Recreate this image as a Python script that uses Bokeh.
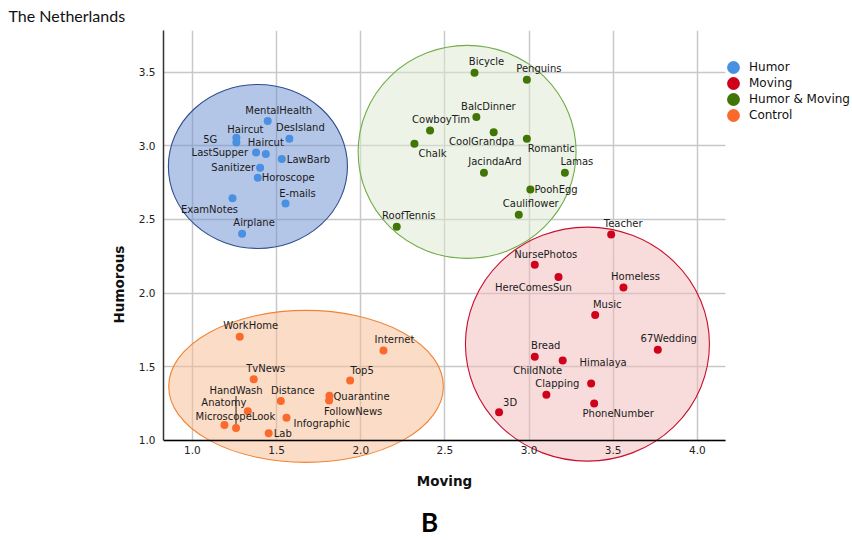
from bokeh.plotting import figure
from bokeh.models import (ColumnDataSource, FixedTicker, PrintfTickFormatter, Legend,
                          LegendItem, Label)
from bokeh.core.properties import value
from bokeh.embed import file_html
from bokeh.resources import INLINE

# ---------------- data ----------------
x_ticks = [1.0, 1.5, 2.0, 2.5, 3.0, 3.5, 4.0]
y_ticks = [1.0, 1.5, 2.0, 2.5, 3.0, 3.5]

humor_names = ["MentalHealth", "Haircut", "5G", "Haircut", "LastSupper", "DesIsland",
               "LawBarb", "Sanitizer", "Horoscope", "E-mails", "ExamNotes", "Airplane"]
humor_x = [1.447, 1.261, 1.261, 1.436, 1.378, 1.576, 1.531, 1.402, 1.388, 1.553, 1.238, 1.295]
humor_y = [3.168, 3.055, 3.023, 2.944, 2.955, 3.048, 2.910, 2.851, 2.783, 2.609, 2.645, 2.403]

moving_names = ["Teacher", "NursePhotos", "HereComesSun", "Homeless", "Music", "67Wedding",
                "Bread", "ChildNote", "Himalaya", "Clapping", "3D", "PhoneNumber"]
moving_x = [3.488, 3.034, 3.175, 3.561, 3.393, 3.765, 3.034, 3.200, 3.369, 3.103, 2.822, 3.387]
moving_y = [2.398, 2.193, 2.109, 2.039, 1.851, 1.616, 1.568, 1.543, 1.387, 1.310, 1.192, 1.251]

hm_names = ["Bicycle", "Penguins", "BalcDinner", "CowboyTim", "CoolGrandpa", "Romantic",
            "Chalk", "JacindaArd", "Lamas", "PoohEgg", "Cauliflower", "RoofTennis"]
hm_x = [2.676, 2.987, 2.687, 2.412, 2.790, 2.987, 2.319, 2.732, 3.213, 3.008, 2.939, 2.214]
hm_y = [3.496, 3.448, 3.195, 3.104, 3.093, 3.048, 3.014, 2.817, 2.817, 2.704, 2.532, 2.451]

control_names = ["WorkHome", "Internet", "TvNews", "Top5", "Quarantine", "FollowNews",
                 "Distance", "HandWash", "Anatomy", "MicroscopeLook", "Infographic", "Lab"]
control_x = [1.281, 2.135, 1.364, 1.937, 1.814, 1.812, 1.525, 1.259, 1.329, 1.190, 1.559, 1.453]
control_y = [1.704, 1.611, 1.416, 1.407, 1.303, 1.272, 1.267, 1.084, 1.199, 1.104, 1.154, 1.048]

group_names = ["Humor", "Moving", "Humor & Moving", "Control"]
# group ellipses (centre, full width, full height) in data units
ellipse_cx = [1.389, 3.347, 2.632, 1.675]
ellipse_cy = [2.860, 1.654, 2.959, 1.367]
ellipse_w = [1.064, 1.450, 1.295, 1.632]
ellipse_h = [1.113, 1.589, 1.446, 1.032]

# ---------------- styles ----------------
dot_colors = ["#4a90e2", "#d0021b", "#417505", "#fb6a2c"]
ell_fill = ["#698dcf", "#f1b9b9", "#dbe9cf", "#f7b98d"]
ell_line = ["#2f4f8f", "#c8102e", "#70ad47", "#f08434"]

# label anchors: (align, dx px, dy px)
humor_anchor = [("center", 11, -11), ("center", 9, -8), ("right", -19, -3), ("center", 0, -12),
                ("right", -8, 0), ("center", 11, -11), ("left", 5, 0), ("right", -5, 0),
                ("left", 4, 0), ("center", 12, -10), ("center", -23, 11), ("center", 12, -11)]
moving_anchor = [("center", 12, -11), ("center", 11, -10), ("center", -25, 10), ("center", 12, -11),
                 ("center", 12, -11), ("center", 11, -11), ("center", 11, -11), ("center", -25, 10),
                 ("center", 12, -21), ("center", 11, -11), ("center", 11, -10), ("center", 24, 10)]
hm_anchor = [("center", 12, -11), ("center", 12, -11), ("center", 12, -11), ("center", 11, -11),
             ("center", -12, 9), ("left", 1, 10), ("left", 4, 10), ("center", 11, -11),
             ("center", 12, -11), ("left", 4, 0), ("center", 12, -11), ("center", 12, -11)]
control_anchor = [("center", 11, -11), ("center", 11, -11), ("center", 12, -11), ("center", 12, -10),
                  ("left", 4, 1), ("center", 24, 11), ("center", 12, -11), ("center", 0, -38),
                  ("center", -24, -9), ("center", 11, -9), ("left", 7, 6), ("left", 5, 0)]

X_AXIS_END = 4.167          # right end of axis line / horizontal grid lines
Y_AXIS_END = 3.783          # top of plot area
X_RANGE = (0.828, 4.922)    # frame extends right to hold the legend
Y_RANGE = (0.3343, Y_AXIS_END)  # frame extends down to hold axis title and panel letter
FW, FH = 689, 508

p = figure(frame_width=FW, frame_height=FH, x_range=X_RANGE, y_range=Y_RANGE,
           output_backend="svg", toolbar_location=None,
           min_border_left=163, min_border_right=0, min_border_top=30, min_border_bottom=0)
p.outline_line_color = None
p.background_fill_color = "white"

# title (top-left of page)
p.title.text = "The Netherlands"
p.title.align = "left"
p.title.offset = -155
p.title.vertical_align = "top"
p.title.standoff = 7
p.title.text_font = "Lato"
p.title.text_font_size = "16px"
p.title.text_font_style = "normal"
p.title.text_color = "#111111"

# grids
p.xaxis.ticker = FixedTicker(ticks=x_ticks)
p.yaxis.ticker = FixedTicker(ticks=y_ticks)
for g in (p.xgrid, p.ygrid):
    g.grid_line_color = "#c8c8c8"
    g.grid_line_width = 1.5
p.xgrid.cross_bounds = (y_ticks[0], Y_AXIS_END)
p.ygrid.cross_bounds = (X_RANGE[0], X_AXIS_END)

# ellipses
p.ellipse(x=ellipse_cx, y=ellipse_cy, width=ellipse_w, height=ellipse_h,
          fill_color=ell_fill, fill_alpha=0.5, line_color=ell_line, line_width=1.1)

# points + labels
groups = [(humor_names, humor_x, humor_y, humor_anchor),
          (moving_names, moving_x, moving_y, moving_anchor),
          (hm_names, hm_x, hm_y, hm_anchor),
          (control_names, control_x, control_y, control_anchor)]
renderers = []
ypx = (Y_RANGE[1] - Y_RANGE[0]) / FH
for gi, (names, xs, ys, anchors) in enumerate(groups):
    src = ColumnDataSource(dict(x=xs, y=ys, name=names,
                                align=[a[0] for a in anchors],
                                dx=[a[1] for a in anchors],
                                dy=[a[2] for a in anchors]))
    if names is control_names:
        i = names.index("HandWash")
        p.segment(x0=[xs[i]], y0=[ys[i]], x1=[xs[i]], y1=[ys[i] + 32 * ypx],
                  line_color="#222222", line_width=1)
    r = p.scatter(x="x", y="y", source=src, size=8, fill_color=dot_colors[gi], line_color=None)
    renderers.append(r)
    p.text(x="x", y="y", text="name", source=src, x_offset="dx", y_offset="dy",
           text_align="align", text_baseline="middle", text_font=value("DejaVu Sans"),
           text_font_size="10px", text_color="#1a1a1a")

# axes
for ax in (p.xaxis[0], p.yaxis[0]):
    ax.formatter = PrintfTickFormatter(format="%.1f")
    ax.major_tick_out = 0
    ax.major_tick_in = 0
    ax.minor_tick_out = 0
    ax.minor_tick_in = 0
    ax.major_label_text_font = "DejaVu Sans"
    ax.major_label_text_font_size = "10.5px"
    ax.major_label_text_color = "#222222"
    ax.axis_label_text_font = "DejaVu Sans"
    ax.axis_label_text_font_size = "13.5px"
    ax.axis_label_text_font_style = "bold"
    ax.axis_label_text_color = "#111111"

p.xaxis.fixed_location = y_ticks[0]
p.xaxis.bounds = (X_RANGE[0], X_AXIS_END)
p.xaxis.axis_line_color = "#000000"
p.xaxis.axis_line_width = 1.5
p.xaxis.major_label_standoff = 6
p.yaxis.axis_label = "Humorous"
p.yaxis.bounds = (y_ticks[0], Y_AXIS_END)
p.yaxis.axis_line_color = "#333333"
p.yaxis.axis_line_width = 1.5
p.yaxis.major_label_standoff = 8
p.yaxis.axis_label_standoff = 9

# x-axis title and panel letter (screen px from the frame's bottom-left corner)
p.add_layout(Label(x=281, y=58, x_units="screen", y_units="screen", text="Moving",
                   text_font="DejaVu Sans", text_font_size="13.5px", text_font_style="bold",
                   text_align="center", text_baseline="middle", text_color="#111111"))
p.add_layout(Label(x=266, y=17, x_units="screen", y_units="screen", text="B",
                   text_font="Lato", text_font_size="26px", text_font_style="bold",
                   text_align="center", text_baseline="middle", text_color="#000000"))

# legend: one single-item legend per row, 16 px apart
for k, (n, r) in enumerate(zip(group_names, renderers)):
    lg = Legend(items=[LegendItem(label=n, renderers=[r])],
                location=(554, 455 - 16 * k), glyph_width=32, glyph_height=32, label_height=32,
                label_standoff=-7, padding=0, margin=0,
                border_line_color=None, background_fill_alpha=0,
                label_text_font="DejaVu Sans", label_text_font_size="12px",
                label_text_color="#111111")
    p.add_layout(lg)

open("out.html", "w").write(file_html(p, INLINE))
